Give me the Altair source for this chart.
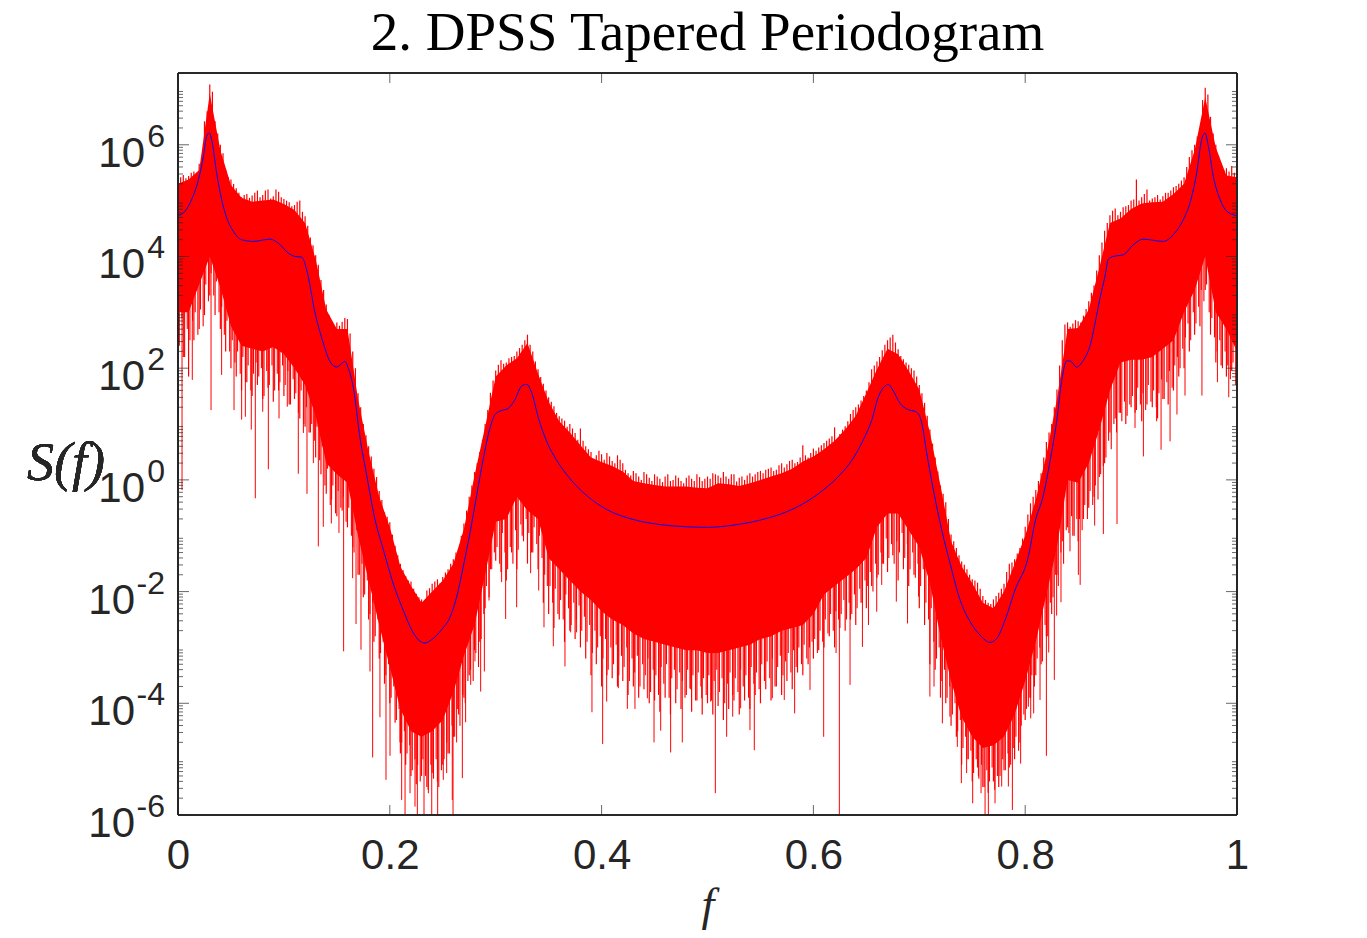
import altair as alt
import numpy as np
import pandas as pd

band_upper = [
    5.3, 5.38, 5.55, 6.92, 5.9, 5.28, 5.05, 4.98, 5.0, 5.02,
    4.94, 4.83, 4.6, 3.95, 3.05, 2.7, 2.7, 1.45, 0.5, -0.3,
    -0.85, -1.55, -1.9, -2.2, -2.0, -1.8, -1.5, -0.88, 0.08, 0.95,
    1.85, 2.05, 2.18, 2.45, 1.9, 1.4, 1.05, 0.85, 0.62, 0.4,
    0.32, 0.25, 0.15, -0.02, -0.06, -0.09, -0.12, -0.12, -0.12, -0.14,
    -0.15, -0.06, -0.08, -0.11, -0.06, 0.0, 0.06, 0.12, 0.2, 0.33,
    0.42, 0.55, 0.7, 0.9, 1.15, 1.55, 1.98, 2.35, 2.25, 1.95,
    1.62, 0.85, -0.1, -1.1, -1.55, -1.85, -2.2, -2.3, -2.0, -1.5,
    -1.0, -0.35, 0.45, 1.45, 2.7, 2.72, 3.05, 3.8, 4.6, 4.68,
    4.85, 4.95, 4.97, 4.98, 5.12, 5.3, 5.9, 6.85, 5.95, 5.45,
    5.42,
]
band_lower = [
    3.0, 3.0, 3.5, 4.0, 3.45, 2.75, 2.4, 2.35, 2.3, 2.38,
    2.25, 2.0, 1.7, 1.15, 0.3, 0.1, -0.05, -1.0, -1.8, -2.6,
    -3.35, -4.1, -4.5, -4.6, -4.5, -4.3, -3.8, -3.15, -2.6, -1.7,
    -0.75, -0.7, -0.3, -0.55, -0.7, -1.4, -1.6, -1.8, -2.0, -2.15,
    -2.35, -2.5, -2.6, -2.75, -2.85, -2.9, -2.95, -3.0, -3.05, -3.05,
    -3.1, -3.1, -3.05, -3.0, -2.95, -2.85, -2.8, -2.7, -2.65, -2.6,
    -2.4, -2.05, -1.9, -1.75, -1.6, -1.4, -0.85, -0.6, -0.6, -0.9,
    -1.2, -1.85, -2.8, -3.6, -4.25, -4.6, -4.8, -4.75, -4.6, -4.2,
    -3.6, -2.9, -2.05, -1.2, 0.0, -0.05, 0.3, 0.9, 1.6, 2.1,
    2.15, 2.15, 2.2, 2.35, 2.5, 3.0, 3.4, 4.0, 3.0, 2.7,
    2.3,
]

# ragged edges of the band, one value every 0.005 in f
upper_tip = [
    5.38, 5.46, 5.44, 5.52, 5.66, 6.42, 7.08, 6.42, 6.0, 5.55,
    5.38, 5.22, 5.06, 5.12, 5.09, 5.18, 5.1, 5.2, 5.08, 5.16,
    5.03, 4.97, 4.92, 5.0, 4.72, 4.34, 4.02, 3.58, 3.14, 2.78,
    2.82, 2.83, 2.88, 2.3, 1.55, 1.0, 0.6, 0.2, -0.2, -0.58,
    -0.76, -1.18, -1.5, -1.72, -1.82, -2.04, -2.14, -1.98, -1.86, -1.78,
    -1.74, -1.6, -1.42, -1.22, -0.78, -0.3, 0.14, 0.5, 1.0, 1.56,
    1.96, 2.14, 2.1, 2.2, 2.3, 2.42, 2.6, 2.3, 1.98, 1.72,
    1.48, 1.32, 1.14, 1.06, 1.0, 0.84, 0.92, 0.6, 0.5, 0.44,
    0.46, 0.48, 0.34, 0.44, 0.3, 0.12, 0.16, 0.06, 0.14, 0.04,
    0.1, 0.02, 0.06, -0.02, 0.08, -0.02, 0.04, 0.02, 0.1, -0.02,
    0.06, 0.12, 0.08, 0.14, 0.02, 0.1, 0.04, 0.0, 0.12, 0.1,
    0.16, 0.18, 0.22, 0.18, 0.3, 0.28, 0.36, 0.32, 0.62, 0.4,
    0.56, 0.58, 0.66, 0.74, 0.94, 0.82, 0.96, 1.18, 1.3, 1.42,
    1.6, 1.98, 2.12, 2.32, 2.5, 2.6, 2.34, 2.16, 2.06, 1.96,
    1.7, 1.38, 0.9, 0.4, -0.1, -0.4, -0.98, -1.22, -1.46, -1.6,
    -1.78, -1.84, -2.08, -2.2, -2.14, -2.02, -1.86, -1.5, -1.42, -1.22,
    -0.84, -0.42, -0.18, 0.12, 0.68, 1.0, 1.62, 2.5, 2.82, 2.8,
    2.84, 2.94, 3.2, 3.48, 4.02, 4.46, 4.74, 4.86, 4.8, 4.9,
    5.0, 5.38, 5.06, 5.2, 5.04, 5.1, 5.08, 5.14, 5.24, 5.3,
    5.42, 5.78, 6.0, 6.3, 7.02, 6.5, 6.0, 5.66, 5.58, 5.62,
    5.56,
]
lower_tip = [
    1.9, 2.2, 1.85, 2.5, 2.7, 2.95, 3.3, 2.95, 2.7, 2.3,
    2.0, 1.85, 1.6, 1.75, 1.5, 1.7, 1.45, 1.65, 1.4, 1.6,
    1.5, 1.35, 1.45, 1.1, 0.95, 0.85, 0.4, 0.1, -0.25, -0.35,
    -0.65, -0.55, -0.85, -1.2, -1.7, -2.1, -2.5, -2.9, -3.2, -3.65,
    -4.0, -4.35, -4.9, -5.1, -5.3, -5.45, -5.3, -5.5, -5.25, -5.4,
    -5.1, -4.9, -4.6, -4.2, -3.9, -3.5, -3.05, -2.9, -2.3, -1.6,
    -1.45, -1.65, -1.8, -1.3, -1.6, -1.0, -1.5, -1.3, -1.6, -2.2,
    -2.4, -2.65, -2.5, -2.9, -2.7, -2.85, -3.0, -3.2, -3.5, -3.3,
    -3.7, -3.5, -3.55, -3.7, -3.6, -3.85, -3.7, -3.9, -3.75, -4.0,
    -3.95, -4.15, -3.9, -4.2, -4.0, -4.1, -3.85, -4.15, -3.95, -4.2,
    -4.0, -4.2, -4.05, -4.3, -4.1, -3.95, -4.2, -3.95, -4.1, -3.85,
    -4.0, -3.75, -3.95, -3.7, -3.85, -3.6, -3.75, -3.45, -3.5, -3.3,
    -3.2, -3.05, -3.0, -2.8, -3.0, -2.65, -2.7, -2.5, -2.6, -2.2,
    -2.3, -1.9, -1.75, -1.5, -1.65, -1.35, -1.8, -1.6, -1.9, -1.7,
    -2.3, -2.6, -3.3, -3.4, -3.9, -4.0, -4.4, -4.6, -5.1, -5.0,
    -5.4, -5.15, -5.5, -5.6, -5.4, -5.5, -5.2, -5.15, -5.0, -4.7,
    -4.3, -3.9, -3.5, -3.3, -2.8, -2.4, -1.7, -1.1, -0.85, -1.0,
    -1.1, -0.7, -0.5, -0.3, 0.05, 0.3, 0.85, 1.1, 1.2, 1.0,
    1.3, 1.25, 1.05, 1.35, 1.3, 1.1, 1.45, 1.35, 1.6, 1.85,
    2.0, 2.3, 2.6, 2.75, 3.4, 2.6, 2.1, 2.05, 1.85, 1.95,
    1.55,
]

# finer teeth between those: upper every 0.005 from 0.0025, lower every 0.0025 from 0.00125
upper_comb = [
    5.42, 5.4, 5.5, 5.46, 5.7, 6.6, 6.95, 6.2, 5.85, 5.42,
    5.3, 5.14, 5.1, 5.05, 5.14, 5.06, 5.18, 5.04, 5.2, 5.06,
    5.0, 4.9, 4.98, 4.8, 4.55, 4.2, 3.85, 3.4, 2.95, 2.72,
    2.76, 2.9, 2.62, 2.0, 1.3, 0.8, 0.42, 0.05, -0.36, -0.66,
    -0.98, -1.35, -1.62, -1.8, -1.95, -2.1, -2.18, -1.94, -1.82, -1.85,
    -1.66, -1.5, -1.3, -1.0, -0.55, -0.1, 0.3, 0.72, 1.25, 1.78,
    2.06, 2.08, 2.18, 2.22, 2.36, 2.5, 2.42, 2.12, 1.84, 1.6,
    1.4, 1.2, 1.1, 0.95, 0.92, 0.72, 0.7, 0.55, 0.38, 0.52,
    0.36, 0.42, 0.3, 0.36, 0.18, 0.08, 0.12, 0.0, 0.1, -0.02,
    0.06, -0.04, 0.1, 0.0, 0.04, -0.06, 0.08, -0.02, 0.05, 0.02,
    0.02, 0.1, 0.04, 0.06, 0.1, -0.03, 0.06, 0.08, 0.06, 0.14,
    0.12, 0.2, 0.16, 0.26, 0.22, 0.34, 0.3, 0.4, 0.44, 0.48,
    0.52, 0.62, 0.7, 0.78, 0.72, 0.9, 1.05, 1.25, 1.35, 1.5,
    1.75, 2.05, 2.2, 2.42, 2.55, 2.46, 2.22, 2.1, 2.0, 1.85,
    1.55, 1.15, 0.65, 0.15, -0.25, -0.7, -1.1, -1.35, -1.52, -1.7,
    -1.8, -1.95, -2.15, -2.22, -2.08, -1.95, -1.65, -1.48, -1.32, -1.05,
    -0.62, -0.3, -0.02, 0.4, 0.85, 1.3, 2.05, 2.78, 2.74, 2.86,
    2.82, 3.06, 3.35, 3.75, 4.25, 4.6, 4.82, 4.74, 4.88, 4.92,
    5.02, 5.0, 5.12, 5.0, 5.06, 5.02, 5.14, 5.18, 5.26, 5.36,
    5.6, 5.9, 6.15, 6.8, 6.9, 6.2, 5.8, 5.55, 5.52, 5.5,
]
lower_comb = [
    2.4, 2.9, 2.2, 2.7, 2.5, 2.85, 3.0, 2.6, 3.05, 2.75,
    3.5, 3.2, 3.7, 3.3, 3.55, 3.0, 3.1, 2.6, 2.85, 2.3,
    2.5, 2.1, 2.3, 1.9, 2.2, 1.75, 2.05, 1.6, 1.9, 2.1,
    1.85, 2.0, 1.5, 1.95, 1.7, 2.05, 1.6, 1.9, 1.75, 2.05,
    1.7, 1.95, 1.35, 1.8, 1.55, 1.2, 1.6, 1.0, 1.3, 0.85,
    1.0, 0.7, 0.95, 0.35, 0.6, -0.1, 0.2, -0.45, -0.1, -0.6,
    -0.2, -0.5, -0.3, -0.75, -0.5, -1.0, -1.3, -0.9, -1.7, -1.5,
    -2.05, -1.8, -2.4, -2.2, -2.8, -2.5, -3.1, -2.9, -3.5, -3.3,
    -3.9, -3.7, -4.3, -4.1, -4.7, -4.5, -4.9, -4.75, -5.2, -5.0,
    -5.1, -5.4, -5.0, -5.3, -5.55, -5.1, -5.35, -5.0, -5.5, -5.2,
    -5.0, -4.7, -4.9, -4.4, -4.6, -4.1, -4.4, -3.85, -4.0, -3.6,
    -3.4, -3.6, -3.1, -3.35, -2.85, -2.4, -1.9, -2.1, -1.6, -1.3,
    -1.2, -1.5, -0.95, -1.3, -1.6, -1.2, -1.5, -0.9, -1.25, -0.8,
    -1.1, -0.7, -0.95, -1.3, -0.85, -1.15, -1.0, -1.4, -1.7, -1.9,
    -1.9, -2.2, -1.95, -2.4, -2.15, -2.5, -2.05, -2.3, -2.6, -2.2,
    -2.5, -2.25, -2.7, -2.45, -2.9, -2.6, -3.1, -2.7, -3.0, -2.8,
    -3.2, -2.85, -3.4, -3.0, -3.3, -2.95, -3.5, -3.15, -3.35, -3.0,
    -3.6, -3.2, -3.45, -3.15, -3.7, -3.3, -3.5, -3.2, -3.8, -3.4,
    -3.5, -3.85, -3.35, -3.65, -3.3, -3.9, -3.55, -3.4, -3.75, -3.45,
    -3.6, -3.9, -3.4, -3.75, -3.5, -3.95, -3.45, -3.7, -3.55, -3.85,
    -3.5, -3.95, -3.6, -3.4, -3.8, -3.55, -4.0, -3.65, -3.45, -3.85,
    -3.55, -3.8, -3.4, -3.7, -3.5, -3.9, -3.35, -3.65, -3.45, -3.75,
    -3.3, -3.6, -3.25, -3.55, -3.2, -3.7, -3.35, -3.15, -3.5, -3.25,
    -3.1, -3.45, -3.05, -3.35, -3.0, -3.3, -2.95, -3.2, -3.0, -2.9,
    -2.85, -3.1, -2.7, -2.9, -2.5, -2.75, -2.4, -2.7, -2.35, -2.5,
    -2.4, -2.15, -2.5, -2.2, -2.4, -2.05, -2.3, -1.95, -2.2, -1.8,
    -1.9, -1.65, -2.0, -1.5, -1.7, -1.3, -1.5, -1.05, -1.4, -1.15,
    -1.5, -1.1, -1.3, -0.95, -1.4, -1.15, -1.6, -1.3, -1.75, -1.5,
    -1.9, -1.6, -2.2, -2.5, -2.3, -2.9, -3.2, -3.0, -3.6, -3.4,
    -3.9, -3.7, -4.2, -4.0, -4.5, -4.3, -4.8, -4.6, -5.0, -4.85,
    -5.25, -5.0, -5.35, -5.1, -5.5, -5.2, -5.4, -5.15, -5.55, -5.3,
    -5.3, -5.0, -5.2, -4.9, -5.1, -4.8, -4.6, -4.85, -4.4, -4.2,
    -4.1, -3.9, -3.5, -3.7, -3.2, -3.0, -3.25, -2.6, -2.8, -2.2,
    -2.1, -1.7, -1.9, -1.3, -1.5, -0.9, -0.95, -0.65, -1.0, -0.7,
    -0.7, -0.9, -0.45, -0.7, -0.2, -0.45, -0.1, -0.35, 0.1, 0.25,
    0.4, 0.7, 0.55, 1.0, 0.85, 1.2, 1.05, 1.4, 1.15, 1.35,
    1.5, 1.2, 1.65, 1.35, 1.55, 1.25, 1.7, 1.4, 1.6, 1.3,
    1.55, 1.8, 1.45, 1.75, 1.95, 1.65, 2.05, 2.2, 2.0, 2.35,
    2.55, 2.8, 2.5, 3.0, 2.8, 3.1, 3.4, 3.2, 3.5, 3.0,
    2.9, 2.55, 2.3, 2.5, 2.0, 2.3, 2.05, 1.8, 2.1, 1.7,
]

# the long downward spikes
spike_f = [
    0.0038, 0.0135, 0.0312, 0.0412, 0.0529, 0.0601, 0.0636, 0.0692, 0.073, 0.08,
    0.0853, 0.0954, 0.1032, 0.1136, 0.1184, 0.1218, 0.1278, 0.1325, 0.1372, 0.1448,
    0.152, 0.1564, 0.1649, 0.1681, 0.1728, 0.1813, 0.1838, 0.1907, 0.1964, 0.2002,
    0.2096, 0.2112, 0.2144, 0.2191, 0.2238, 0.226, 0.2323, 0.2364, 0.2396, 0.2452,
    0.2505, 0.2537, 0.259, 0.2597, 0.2631, 0.2685, 0.2716, 0.2764, 0.2804, 0.2858,
    0.2893, 0.2937, 0.3056, 0.3094, 0.3198, 0.333, 0.3406, 0.3456, 0.3544, 0.3654,
    0.3708, 0.3764, 0.3909, 0.401, 0.4048, 0.4158, 0.4243, 0.4315, 0.4432, 0.4495,
    0.4558, 0.4652, 0.4762, 0.4835, 0.4945, 0.503, 0.5074, 0.5181, 0.5238, 0.5313,
    0.5401, 0.5442, 0.5612, 0.5725, 0.5823, 0.5968, 0.6097, 0.6214, 0.6245, 0.6346,
    0.6463, 0.652, 0.6598, 0.6645, 0.6783, 0.6889, 0.6993, 0.71, 0.7139, 0.7218,
    0.7289, 0.7359, 0.7397, 0.7447, 0.7504, 0.7558, 0.7583, 0.7621, 0.7652, 0.7715,
    0.7778, 0.7841, 0.7879, 0.7957, 0.803, 0.8052, 0.808, 0.814, 0.82, 0.8222,
    0.8275, 0.8297, 0.8338, 0.8423, 0.8502, 0.8519, 0.8656, 0.8738, 0.8867, 0.9037,
    0.9116, 0.9241, 0.9283, 0.9368, 0.9433, 0.9509, 0.9669, 0.9815, 0.9922,
]
spike_lo = [
    -0.18, 1.79, 1.25, 1.88, 1.25, 1.08, 1.13, 0.9, -0.33, 1.22,
    0.19, 1.1, 1.31, 0.11, 0.84, -0.25, 0.3, -1.19, -0.84, -0.78,
    -0.95, -3.07, -1.76, -2.58, -3.04, -3.43, -4.97, -4.25, -5.37, -4.94,
    -4.7, -5.73, -6.2, -5.61, -5.85, -6.2, -6.2, -5.61, -6.2, -6.2,
    -5.37, -5.25, -5.73, -6.2, -4.7, -5.34, -4.34, -3.67, -3.25, -3.79,
    -3.43, -2.16, -1.83, -2.49, -2.28, -1.67, -1.98, -2.64, -2.98, -3.34,
    -2.73, -2.73, -4.16, -4.73, -3.97, -3.73, -4.1, -4.1, -3.91, -4.7,
    -4.49, -4.88, -4.7, -3.73, -3.91, -3.97, -5.61, -4.6, -4.24, -4.09,
    -4.48, -4.84, -3.91, -3.94, -4.18, -3.76, -4.6, -3.1, -6.2, -3.67,
    -2.99, -2.6, -2.36, -1.88, -2.18, -2.57, -2.09, -3.88, -3.7, -4.36,
    -4.24, -4.78, -5.43, -5.25, -5.79, -5.31, -5.61, -6.2, -6.2, -5.79,
    -5.49, -5.49, -5.91, -5.08, -4.06, -4.27, -4.18, -3.94, -4.94, -3.09,
    -3.58, -2.43, -2.19, -1.28, -1.7, -1.88, -0.82, -0.97, -0.79, 0.93,
    0.42, 1.05, 0.54, 0.69, 1.17, 1.51, 1.51, 1.75, 1.48,
]

# smooth blue curve
curve_f = [
    0.0, 0.0066, 0.0129, 0.0192, 0.024, 0.027, 0.0296, 0.0321, 0.0365, 0.0412,
    0.046, 0.0523, 0.0601, 0.0711, 0.0869, 0.0947, 0.1042, 0.1105, 0.1168, 0.1215,
    0.1294, 0.1372, 0.1435, 0.1498, 0.1577, 0.1608, 0.1656, 0.1719, 0.1782, 0.186,
    0.1939, 0.2033, 0.2128, 0.2222, 0.2285, 0.2332, 0.2395, 0.249, 0.2568, 0.2631,
    0.2694, 0.2757, 0.282, 0.2883, 0.2946, 0.2994, 0.304, 0.3119, 0.3182, 0.3245,
    0.3292, 0.334, 0.3403, 0.3481, 0.3576, 0.3702, 0.3859, 0.4048, 0.43, 0.4552,
    0.4803, 0.5, 0.5244, 0.5559, 0.5748, 0.5937, 0.6094, 0.6251, 0.6377, 0.6472,
    0.6551, 0.6614, 0.667, 0.6708, 0.6749, 0.6818, 0.6881, 0.6976, 0.7023, 0.707,
    0.7133, 0.7212, 0.729, 0.7385, 0.748, 0.7574, 0.7668, 0.7731, 0.781, 0.7904,
    0.803, 0.8092, 0.8171, 0.8234, 0.8297, 0.8345, 0.8392, 0.8423, 0.8486, 0.8549,
    0.8612, 0.8675, 0.8706, 0.8754, 0.8785, 0.8832, 0.8926, 0.9021, 0.9115, 0.9304, 0.9398,
    0.9493, 0.9556, 0.9619, 0.9666, 0.9698, 0.973, 0.9777, 0.984, 0.9903, 1.0,
]
curve_s = [
    4.73, 4.81, 5.02, 5.37, 5.79, 6.15, 6.21, 6.06, 5.49, 5.02,
    4.69, 4.45, 4.3, 4.27, 4.31, 4.24, 4.06, 4.0, 3.99, 3.76,
    2.99, 2.45, 2.12, 2.02, 2.12, 2.0, 1.65, 0.75, 0.08, -0.71,
    -1.25, -1.86, -2.34, -2.74, -2.89, -2.92, -2.86, -2.68, -2.46, -2.1,
    -1.55, -0.95, -0.28, 0.38, 0.93, 1.17, 1.23, 1.28, 1.44, 1.68,
    1.71, 1.56, 1.11, 0.69, 0.35, 0.02, -0.28, -0.53, -0.71, -0.8,
    -0.84, -0.85, -0.81, -0.69, -0.57, -0.39, -0.18, 0.09, 0.39, 0.72,
    1.07, 1.49, 1.67, 1.71, 1.61, 1.37, 1.27, 1.21, 1.02, 0.48,
    -0.18, -0.9, -1.49, -2.15, -2.54, -2.78, -2.91, -2.84, -2.51, -1.97,
    -1.37, -0.76, -0.28, 0.33, 1.05, 1.78, 2.13, 2.13, 2.02, 2.14,
    2.4, 2.95, 3.25, 3.65, 3.95, 4.0, 4.03, 4.21, 4.31, 4.27, 4.39,
    4.66, 4.96, 5.49, 6.09, 6.21, 5.97, 5.43, 5.02, 4.81, 4.73,
]

x_ticks = [0, 0.2, 0.4, 0.6, 0.8, 1]
y_decades = [-6, -4, -2, 0, 2, 4, 6]
y_top = 7.285

W, H = 1059, 742
RED = "#ff0000"
INK = "#262626"


def stems(f, hi, lo):
    return pd.DataFrame({"f": f, "hi": np.power(10.0, hi), "lo": np.power(10.0, lo)})


band = stems([i / 100 for i in range(len(band_upper))], band_upper, band_lower)
tips = stems([i / 200 for i in range(len(upper_tip))], upper_tip, lower_tip)
# the inner end of each tooth is hidden in the band
up_teeth = stems([0.0025 + i / 200 for i in range(len(upper_comb))], upper_comb, [v - 1 for v in upper_comb])
low_teeth = stems([0.00125 + i / 400 for i in range(len(lower_comb))], [v + 1.2 for v in lower_comb], lower_comb)
spikes = stems(spike_f, [band_lower[round(f * 100)] + 0.6 for f in spike_f], spike_lo)
curve = pd.DataFrame({"f": curve_f, "S": np.power(10.0, curve_s)})

major = pd.DataFrame({"v": [10.0 ** d for d in y_decades], "exp": [str(d) for d in y_decades]})
minor = pd.DataFrame({"v": [m * 10.0 ** d for d in range(-6, 8) for m in range(2, 10)
                            if m * 10.0 ** d < 10 ** y_top]})
xt = pd.DataFrame({"f": x_ticks})

x_enc = alt.X(
    "f:Q",
    scale=alt.Scale(domain=[0, 1], nice=False),
    axis=alt.Axis(
        values=x_ticks, format="~g", grid=False, ticks=False, domain=False,
        labelFontSize=42, labelFont="Liberation Sans", labelColor=INK, labelPadding=20,
        labelFlush=False, labelBound=False, labelOverlap=False,
        title="f", titleFont="Liberation Serif", titleFontStyle="italic",
        titleFontWeight="normal", titleFontSize=46, titleColor=INK, titleY=68,
    ),
)
y_scale = alt.Scale(type="log", domain=[1e-6, 10 ** y_top], nice=False)
y_enc = alt.Y("hi:Q", scale=y_scale, axis=None)
y_plain = alt.Y("v:Q", scale=y_scale, axis=None)

body = alt.Chart(band).mark_area(color=RED, clip=True).encode(x=x_enc, y=y_enc, y2="lo:Q")


def teeth(df, width):
    return alt.Chart(df).mark_rule(color=RED, strokeWidth=width, clip=True).encode(
        x=alt.X("f:Q"), y=y_enc, y2="lo:Q")


blue = alt.Chart(curve).mark_line(color="#0000ff", strokeWidth=1, interpolate="monotone", clip=True).encode(
    x=alt.X("f:Q"), y=alt.Y("S:Q", scale=y_scale, axis=None))


def tick(df, x0, x1):
    return alt.Chart(df).mark_rule(color=INK, strokeWidth=0.7).encode(
        y=y_plain, x=alt.value(x0), x2=alt.value(x1))


def xtick(y0, y1):
    return alt.Chart(xt).mark_rule(color=INK, strokeWidth=0.7).encode(
        x=alt.X("f:Q"), y=alt.value(y0), y2=alt.value(y1))


box = [
    alt.Chart(xt).mark_rule(color=INK, strokeWidth=1.2).encode(x=alt.value(0), x2=alt.value(W), y=alt.value(0)),
    alt.Chart(xt).mark_rule(color=INK, strokeWidth=1.2).encode(x=alt.value(0), x2=alt.value(W), y=alt.value(H)),
    alt.Chart(xt).mark_rule(color=INK, strokeWidth=1.2).encode(y=alt.value(0), y2=alt.value(H), x=alt.value(0)),
    alt.Chart(xt).mark_rule(color=INK, strokeWidth=1.2).encode(y=alt.value(0), y2=alt.value(H), x=alt.value(W)),
]

lab = alt.Chart(major)
exp_text = lab.mark_text(font="Liberation Sans", fontSize=32, color=INK, align="right", baseline="alphabetic", dy=2).encode(
    y=y_plain, x=alt.value(-13), text="exp:N")
ten_pos = lab.transform_filter("datum.v >= 1").mark_text(
    font="Liberation Sans", fontSize=42, color=INK, align="right", baseline="alphabetic", dy=22).encode(
    y=y_plain, x=alt.value(-33), text=alt.value("10"))
ten_neg = lab.transform_filter("datum.v < 1").mark_text(
    font="Liberation Sans", fontSize=42, color=INK, align="right", baseline="alphabetic", dy=22).encode(
    y=y_plain, x=alt.value(-43), text=alt.value("10"))
y_title = alt.Chart(xt).mark_text(
    font="Liberation Serif", fontStyle="italic", fontSize=54, color=INK,
    align="left", baseline="alphabetic").encode(
    x=alt.value(-151), y=alt.value(407), text=alt.value("S(f)"))

chart = alt.layer(
    body, teeth(tips, 1.2), teeth(up_teeth, 1.2), teeth(low_teeth, 1.1), teeth(spikes, 1), blue,
    tick(major, 0, 11), tick(minor, 0, 5),
    tick(major, W, W - 11), tick(minor, W, W - 5),
    xtick(H, H - 10), xtick(0, 10),
    *box,
    y_title, ten_pos, ten_neg, exp_text,
).properties(
    width=W,
    height=H,
    autosize="none",
    padding={"left": 170, "top": 65, "right": 122, "bottom": 123},
    title=alt.TitleParams(
        "2. DPSS Tapered Periodogram", font="Liberation Serif", fontSize=55,
        fontWeight="normal", color="black", anchor="middle", offset=10,
    ),
).configure_view(stroke=None)

chart.save("out.html", embed_options={"renderer": "svg", "actions": False})
